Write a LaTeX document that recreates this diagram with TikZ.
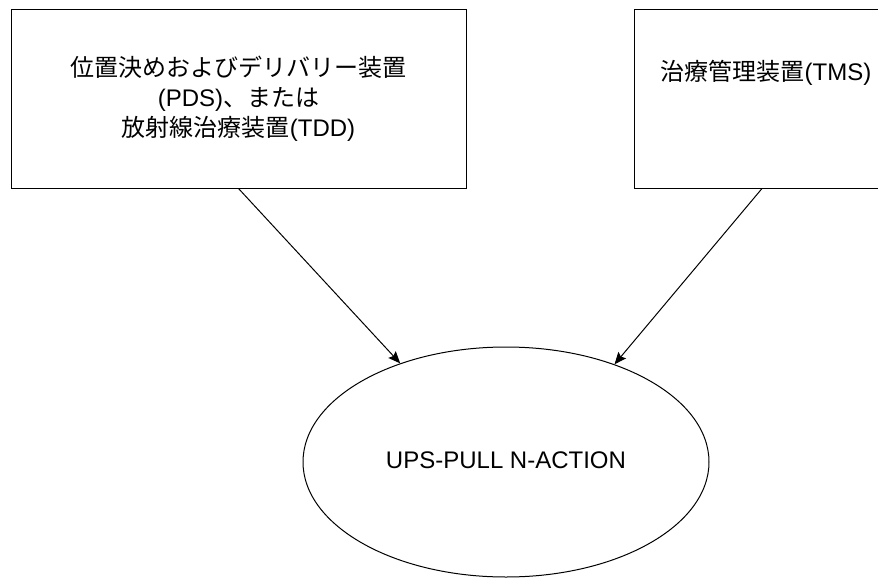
\documentclass[tikz,border=0pt]{standalone}
\usepackage{fontspec}
\setmainfont{Liberation Sans}
\newfontfamily\jpfont{Noto Sans CJK JP}
\usetikzlibrary{shapes.geometric, arrows.meta}

\begin{document}
\begin{tikzpicture}[x=0.5pt, y=-0.5pt, font=\fontsize{12}{15}\selectfont]
        % Setup the styles for the boxes, the oval and the arrows
        \tikzset{box style/.style={draw,
                                   line width=0.5pt,
                                   minimum height=89.5pt,
                                   inner sep=0pt},
                 oval style/.style={ellipse, draw,
                                    line width=0.5pt,
                                    minimum width=203pt,
                                    minimum height=115pt,
                                    inner sep=0pt},
                 link style/.style={line width=0.5pt,
                                    -{Stealth[length=6pt, width=5pt, inset=1pt]}}}
        \useasboundingbox (0,0) rectangle (878,578);

        % Draw the boxes and the oval
        \node[box style, minimum width=227.5pt, align=center] at (238.5, 98.5) (pds)
            {{\jpfont 位置決めおよびデリバリー装置}\\(PDS){\jpfont 、または}\\{\jpfont 放射線治療装置}(TDD)};
        \node[box style, minimum width=128pt] at (762, 98.5) (tms) {};
        \node at (766, 73) (tmstext) {{\jpfont 治療管理装置}(TMS)};
        \node[oval style, text depth=2pt] at (506, 462) (ups) {UPS-PULL N-ACTION};

        % Connect the boxes with the oval
        \draw[link style] (pds.south) -- (ups.137.8);
        \draw[link style] (tms.south) -- (ups.42.5);
\end{tikzpicture}
\end{document}
